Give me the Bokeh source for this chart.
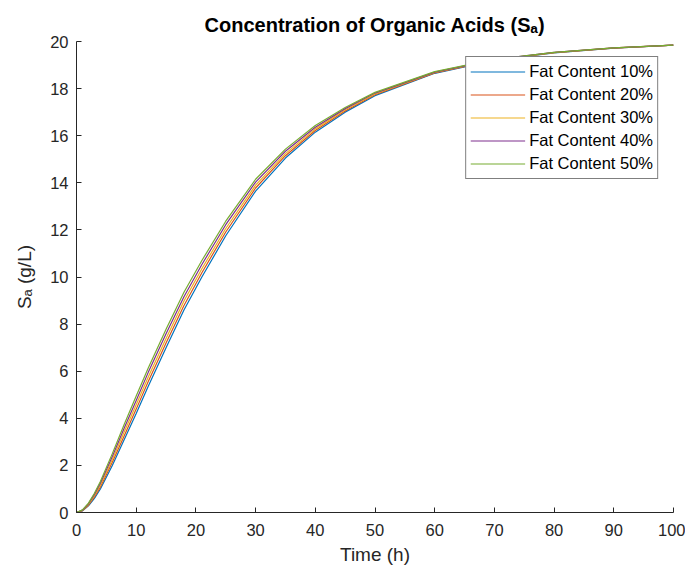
from bokeh.plotting import figure
from bokeh.models import Range1d, FixedTicker, Legend, LegendItem
from bokeh.embed import file_html
from bokeh.resources import INLINE

# Time (h)
t = [0, 1, 2, 3, 4, 6, 8, 10, 12, 15, 18, 21, 25, 30, 35, 40, 45, 50, 60, 70, 80, 90, 100]

# Organic acid concentration S_a (g/L) for each fat content
fat10 = [0, 0.07, 0.28, 0.60, 1.00, 2.00, 3.10, 4.20, 5.35, 7.00, 8.60, 10.00, 11.75, 13.65, 15.05, 16.15, 17.00, 17.70, 18.65, 19.20, 19.52, 19.72, 19.85]
fat20 = [0, 0.08, 0.31, 0.66, 1.08, 2.13, 3.26, 4.39, 5.55, 7.20, 8.79, 10.18, 11.91, 13.78, 15.15, 16.22, 17.05, 17.74, 18.67, 19.21, 19.53, 19.72, 19.85]
fat30 = [0, 0.09, 0.34, 0.71, 1.16, 2.25, 3.43, 4.58, 5.74, 7.39, 8.98, 10.35, 12.06, 13.90, 15.24, 16.29, 17.10, 17.77, 18.69, 19.22, 19.53, 19.73, 19.85]
fat40 = [0, 0.10, 0.37, 0.77, 1.24, 2.38, 3.59, 4.76, 5.94, 7.59, 9.16, 10.53, 12.22, 14.03, 15.34, 16.36, 17.15, 17.81, 18.70, 19.23, 19.54, 19.73, 19.85]
fat50 = [0, 0.11, 0.40, 0.82, 1.32, 2.50, 3.75, 4.95, 6.13, 7.78, 9.35, 10.70, 12.37, 14.15, 15.43, 16.43, 17.20, 17.84, 18.72, 19.24, 19.54, 19.73, 19.85]

labels = ["Fat Content 10%", "Fat Content 20%", "Fat Content 30%", "Fat Content 40%", "Fat Content 50%"]
colors = ["#0072BD", "#D95319", "#EDB120", "#7E2F8E", "#77AC30"]
series = [fat10, fat20, fat30, fat40, fat50]

x_ticks = [0, 10, 20, 30, 40, 50, 60, 70, 80, 90, 100]
y_ticks = [0, 2, 4, 6, 8, 10, 12, 14, 16, 18, 20]

FONT = "Liberation Sans"
AX = "#262626"

p = figure(width=685, height=572, output_backend="svg", toolbar_location=None,
           x_range=Range1d(0, 100), y_range=Range1d(0, 20),
           min_border_left=76, min_border_right=12, min_border_top=41, min_border_bottom=60)
p.background_fill_color = "white"
p.border_fill_color = "white"
p.outline_line_color = None
p.grid.visible = False

p.title.text = "Concentration of Organic Acids (Sₐ)"
p.title.align = "center"
p.title.vertical_align = "top"
p.title.text_font = FONT
p.title.text_font_size = "20px"
p.title.text_font_style = "bold"
p.title.text_color = "black"
p.title.standoff = 8

for ax in (p.xaxis[0], p.yaxis[0]):
    ax.axis_line_color = AX
    ax.major_tick_line_color = AX
    ax.major_tick_in = 5
    ax.major_tick_out = 0
    ax.minor_tick_line_color = None
    ax.major_label_text_font = FONT
    ax.major_label_text_font_size = "16.5px"
    ax.major_label_text_color = AX
    ax.axis_label_text_font = FONT
    ax.axis_label_text_font_size = "19px"
    ax.axis_label_text_font_style = "normal"
    ax.axis_label_text_color = AX

p.xaxis[0].ticker = FixedTicker(ticks=x_ticks)
p.yaxis[0].ticker = FixedTicker(ticks=y_ticks)
p.xaxis[0].axis_label = "Time (h)"
p.yaxis[0].axis_label = "Sₐ (g/L)"
p.xaxis[0].major_label_standoff = 11
p.yaxis[0].major_label_standoff = 8
p.xaxis[0].axis_label_standoff = 5
p.yaxis[0].axis_label_standoff = 12

items = []
for s, c, lab in zip(series, colors, labels):
    r = p.line(t, s, line_color=c, line_width=1.2)
    items.append(LegendItem(label=lab, renderers=[r]))

legend = Legend(items=items, location="top_right", margin=15)
legend.label_text_font = FONT
legend.label_text_font_size = "16.5px"
legend.label_text_color = "black"
legend.border_line_color = "black"
legend.border_line_width = 1
legend.background_fill_color = "white"
legend.background_fill_alpha = 1
legend.glyph_width = 55
legend.glyph_height = 21
legend.label_height = 21
legend.spacing = 2
legend.padding = 4
legend.label_standoff = 4
p.add_layout(legend)

open("out.html", "w").write(file_html(p, INLINE))
